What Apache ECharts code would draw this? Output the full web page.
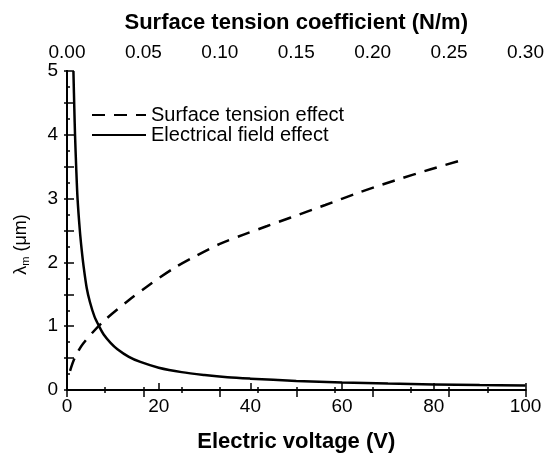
<!DOCTYPE html>
<html>
<head>
<meta charset="utf-8">
<script src="https://cdn.jsdelivr.net/npm/echarts@6/dist/echarts.min.js"></script>
<style>
  html, body { margin: 0; padding: 0; background: #fff; }
  #main { width: 547px; height: 458px; }
</style>
</head>
<body>
<div id="main"></div>
<script>
// 数据
// electrical field effect: [voltage (V), lambda_m (um)]
const fieldPoints = [
  [1.4, 5.0], [1.6, 4.4], [1.75, 4.0], [2.0, 3.5], [2.3, 3.0], [2.8, 2.5],
  [3.2, 2.2], [3.6, 1.95], [4.3, 1.6], [5.0, 1.38], [6.0, 1.15], [7.0, 1.0],
  [8.0, 0.87], [9.5, 0.74], [11, 0.64], [13.5, 0.52], [16, 0.44], [20, 0.35],
  [25, 0.28], [30, 0.235], [35, 0.2], [40, 0.178], [50, 0.142], [60, 0.117],
  [70, 0.1], [80, 0.088], [90, 0.078], [100, 0.07]
]
// surface tension effect: [coefficient (N/m), lambda_m (um)]
const tensionPoints = [
  [0.002, 0.3], [0.005, 0.5], [0.0106, 0.73], [0.0236, 1.07], [0.04, 1.4],
  [0.054, 1.65], [0.07, 1.91], [0.085, 2.11], [0.1, 2.29], [0.116, 2.44],
  [0.131, 2.57], [0.146, 2.7], [0.169, 2.9], [0.1915, 3.1], [0.214, 3.28],
  [0.238, 3.46], [0.2565, 3.59]
]
const seriesNames = ['Surface tension effect', 'Electrical field effect']
const voltageRange = [0, 100, 20]
const tensionRange = [0, 0.3, 0.05]
const lambdaRange = [0, 5, 0.5]

const FONT = 'Liberation Sans'
const tickFont = { color: '#000', fontFamily: FONT, fontSize: 19 }
const nameFont = { color: '#000', fontFamily: FONT, fontSize: 22, fontWeight: 'bold' }
const frameLine = { show: true, lineStyle: { color: '#000', width: 2 } }
const tickLine = { color: '#000', width: 1.5 }

const option = {
  animation: false,
  grid: { left: 67, right: 19, top: 71, bottom: 60 },
  legend: {
    left: 86,
    top: 100,
    orient: 'vertical',
    itemWidth: 54,
    itemHeight: 14,
    itemGap: 0,
    itemStyle: { opacity: 0 },
    textStyle: { color: '#000', fontFamily: FONT, fontSize: 20 },
    data: seriesNames
  },
  xAxis: [
    {
      type: 'value',
      position: 'bottom',
      min: voltageRange[0],
      max: voltageRange[1],
      interval: voltageRange[2],
      name: 'Electric voltage (V)',
      nameLocation: 'middle',
      nameGap: 41,
      nameTextStyle: nameFont,
      axisLine: frameLine,
      axisTick: { inside: true, length: 7, lineStyle: tickLine },
      axisLabel: Object.assign({ margin: 7 }, tickFont),
      splitLine: { show: false }
    },
    {
      type: 'value',
      position: 'top',
      min: tensionRange[0],
      max: tensionRange[1],
      interval: tensionRange[2],
      name: 'Surface tension coefficient (N/m)',
      nameLocation: 'middle',
      nameGap: 37,
      nameTextStyle: nameFont,
      axisLine: frameLine,
      axisTick: { inside: true, length: 7, lineStyle: tickLine },
      minorTick: { show: true, splitNumber: 2, length: 3, lineStyle: tickLine },
      axisLabel: Object.assign({ margin: 9, formatter: (v) => v.toFixed(2) }, tickFont),
      splitLine: { show: false }
    },
    {
      // small ticks of the top scale repeated on the bottom edge
      type: 'value',
      position: 'bottom',
      min: tensionRange[0],
      max: tensionRange[1],
      interval: 0.025,
      axisLine: { show: false },
      axisTick: { inside: true, length: 3, lineStyle: tickLine },
      axisLabel: { show: false },
      splitLine: { show: false }
    }
  ],
  yAxis: [
    {
      type: 'value',
      position: 'left',
      min: lambdaRange[0],
      max: lambdaRange[1],
      interval: lambdaRange[2],
      name: '{t|λ}{s|m}{t| (μm)}',
      nameLocation: 'middle',
      nameGap: 36,
      nameRotate: 90,
      nameTextStyle: {
        color: '#000',
        fontFamily: FONT,
        fontSize: 18,
        padding: [0, 28, 0, 0],
        rich: {
          t: { color: '#000', fontFamily: FONT, fontSize: 18 },
          s: { color: '#000', fontFamily: FONT, fontSize: 11, padding: [9, 0, 0, 0] }
        }
      },
      axisLine: frameLine,
      axisTick: { inside: true, length: 7, lineStyle: tickLine },
      minorTick: { show: true, splitNumber: 2, length: 3, lineStyle: tickLine },
      axisLabel: Object.assign({
        margin: 9,
        formatter: (v) => (Number.isInteger(v) ? String(v) : '')
      }, tickFont),
      splitLine: { show: false }
    },
    {
      type: 'value',
      position: 'right',
      min: lambdaRange[0],
      max: lambdaRange[1],
      interval: lambdaRange[2],
      axisLine: frameLine,
      axisTick: { inside: true, length: 3, lineStyle: tickLine },
      axisLabel: { show: false },
      splitLine: { show: false }
    }
  ],
  series: [
    {
      name: seriesNames[0],
      type: 'line',
      xAxisIndex: 1,
      yAxisIndex: 0,
      smooth: 0.3,
      symbol: 'none',
      lineStyle: { color: '#000', width: 2.5, type: [13, 9] },
      itemStyle: { color: '#000' },
      data: tensionPoints
    },
    {
      name: seriesNames[1],
      type: 'line',
      xAxisIndex: 0,
      yAxisIndex: 0,
      smooth: 0.3,
      symbol: 'none',
      lineStyle: { color: '#000', width: 2.5 },
      itemStyle: { color: '#000' },
      data: fieldPoints
    }
  ]
}

const myChart = echarts.init(document.getElementById('main'), null, { renderer: 'canvas' })
myChart.setOption(option)
</script>
</body>
</html>
